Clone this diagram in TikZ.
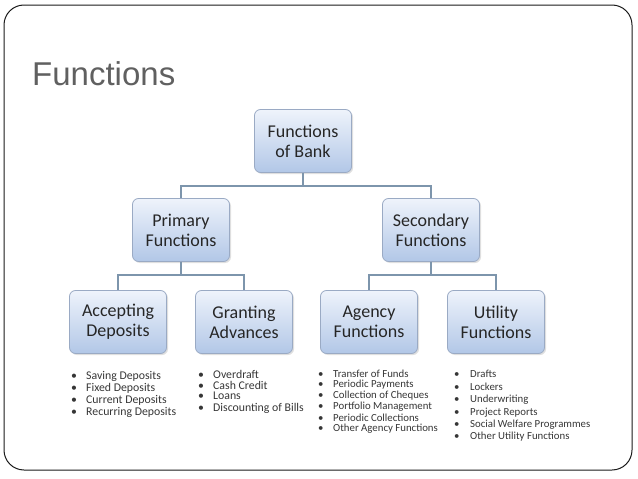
\documentclass[tikz,border=0pt]{standalone}
\usepackage{fontspec}
\setmainfont{Carlito}
\newfontfamily\titlefont{Liberation Sans}
\usetikzlibrary{shadows}
\definecolor{framec}{HTML}{1A1A1A}
\definecolor{titlec}{HTML}{606060}
\definecolor{boxtop}{HTML}{EEF3FB}
\definecolor{boxbot}{HTML}{B2C7E7}
\definecolor{boxline}{HTML}{9AAAC4}
\definecolor{linkc}{HTML}{7D95AC}
\definecolor{listc}{HTML}{363636}
\tikzset{
  fbox/.style={draw=boxline, line width=0.8pt, rounded corners=6pt,
    top color=boxtop, bottom color=boxbot, minimum width=97pt, minimum height=63pt,
    align=center, font=\fontsize{18}{20}\selectfont, text=black!85,
    drop shadow={shadow xshift=1.5pt, shadow yshift=-1.5pt, opacity=0.25}},
  link/.style={draw=linkc, line width=1.4pt},
  item/.style={anchor=west, inner sep=0pt, font=\fontsize{10.8}{11}\selectfont, text=listc},
  bigitem/.style={item, font=\fontsize{11.8}{12}\selectfont}
}
\newcommand{\bul}[2][15pt]{\makebox[#1][l]{\textbullet}#2}
\begin{document}
\begin{tikzpicture}[x=1pt,y=-1pt]
\useasboundingbox (0,0) rectangle (638,479);
\draw[framec, line width=1pt, rounded corners=20pt] (4,5) rectangle (632,470);
\node[anchor=west, inner sep=0pt, text=titlec, font=\titlefont\fontsize{33}{36}\selectfont] (title) at (32,74) {Functions};

\node[fbox] (bank) at (303,141) {Functions\\of Bank};
\node[fbox] (prim) at (181,230) {Primary\\Functions};
\node[fbox] (sec) at (431,230) {Secondary\\Functions};
\node[fbox] (acc) at (118,322) {Accepting\\Deposits};
\node[fbox] (gra) at (244,322) {Granting\\Advances};
\node[fbox] (age) at (369,322) {Agency\\Functions};
\node[fbox] (uti) at (496,322) {Utility\\Functions};

\draw[link] (bank.south) -- ++(0,13) -| (prim.north);
\draw[link] (bank.south) -- ++(0,13) -| (sec.north);
\draw[link] (prim.south) -- ++(0,13) -| (acc.north);
\draw[link] (prim.south) -- ++(0,13) -| (gra.north);
\draw[link] (sec.south) -- ++(0,13) -| (age.north);
\draw[link] (sec.south) -- ++(0,13) -| (uti.north);

\node[bigitem] (a1) at (71,376) {\bul{Saving Deposits}};
\node[bigitem] (a2) at (71,388) {\bul{Fixed Deposits}};
\node[bigitem] (a3) at (71,400) {\bul{Current Deposits}};
\node[bigitem] (a4) at (71,412) {\bul{Recurring Deposits}};

\node[bigitem] (g1) at (198,374) {\bul{Overdraft}};
\node[bigitem] (g2) at (198,385) {\bul{Cash Credit}};
\node[bigitem] (g3) at (198,396) {\bul{Loans}};
\node[bigitem] (g4) at (198,408) {\bul{Discounting of Bills}};

\node[item] (p1) at (318,374) {\bul{Transfer of Funds}};
\node[item] (p2) at (318,385) {\bul{Periodic Payments}};
\node[item] (p3) at (318,396) {\bul{Collection of Cheques}};
\node[item] (p4) at (318,407) {\bul{Portfolio Management}};
\node[item] (p5) at (318,418) {\bul{Periodic Collections}};
\node[item] (p6) at (318,429) {\bul{Other Agency Functions}};

\node[item] (u1) at (454,374) {\bul[16pt]{Drafts}};
\node[item] (u2) at (454,387) {\bul[16pt]{Lockers}};
\node[item] (u3) at (454,400) {\bul[16pt]{Underwriting}};
\node[item] (u4) at (454,413) {\bul[16pt]{Project Reports}};
\node[item] (u5) at (454,425) {\bul[16pt]{Social Welfare Programmes}};
\node[item] (u6) at (454,437) {\bul[16pt]{Other Utility Functions}};
\end{tikzpicture}
\end{document}
